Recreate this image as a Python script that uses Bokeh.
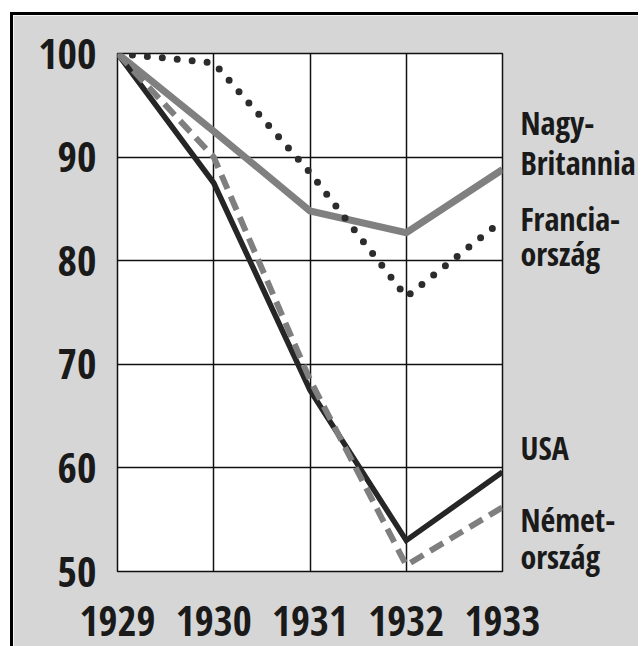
from bokeh.plotting import figure
from bokeh.models import FixedTicker, LinearAxis, Div
from bokeh.layouts import column, row
from bokeh.embed import file_html
from bokeh.resources import INLINE

years = [1929, 1930, 1931, 1932, 1933]
usa = [100, 87.5, 67.5, 53.0, 59.6]
nemetorszag = [100, 90.0, 68.5, 50.6, 56.2]
nagy_britannia = [100, 92.5, 84.8, 82.7, 88.8]
franciaorszag = [100, 99.1, 88.5, 76.5, 83.9]

y_ticks = [50, 60, 70, 80, 90, 100]

label_texts = ["Nagy-", "Britannia", "Francia-", "ország", "USA", "Német-", "ország"]
label_y = [93.36, 89.5, 84.05, 80.7, 62.0, 55.0, 51.4]

FONT = "Open Sans Condensed"
BG = "#d6d6d6"
INK = "#1a1a1a"

p = figure(width=625, height=631, output_backend="svg", toolbar_location=None,
           x_range=(1929, 1933), y_range=(50, 100),
           min_border_left=104, min_border_right=136, min_border_top=38, min_border_bottom=75)
p.background_fill_color = "white"
p.border_fill_color = BG
p.outline_line_color = "#111111"
p.outline_line_width = 1.5

p.xaxis.ticker = FixedTicker(ticks=years)
p.yaxis.ticker = FixedTicker(ticks=y_ticks)

right_axis = LinearAxis(ticker=FixedTicker(ticks=label_y),
                        major_label_overrides={v: t for v, t in zip(label_y, label_texts)})
p.add_layout(right_axis, "right")

for ax in (p.xaxis[0], p.yaxis[0], right_axis):
    ax.axis_line_color = None
    ax.major_tick_line_color = None
    ax.minor_tick_line_color = None
    ax.major_tick_out = 0
    ax.major_tick_in = 0
    ax.major_label_text_font = FONT
    ax.major_label_text_font_style = "bold"
    ax.major_label_text_color = INK
p.xaxis[0].major_label_text_font_size = "41px"
p.yaxis[0].major_label_text_font_size = "42px"
p.yaxis[0].major_label_text_align = "center"
p.yaxis[0].major_label_standoff = 21
p.xaxis[0].major_label_standoff = 34
right_axis.major_label_text_font_size = "32px"
right_axis.major_label_standoff = 18

p.grid.grid_line_color = "#111111"
p.grid.grid_line_width = 1.5
p.grid.grid_line_alpha = 1.0

p.line(years, nagy_britannia, line_color="#808080", line_width=7, line_join="miter")
p.line(years, franciaorszag, line_color="#2c2c2c", line_width=7, line_dash="0 15",
       line_cap="round", line_join="round")
p.line(years, usa, line_color="#262626", line_width=5.5, line_join="miter")
p.line(years, nemetorszag, line_color="#7f7f7f", line_width=6, line_dash="15 8",
       line_join="miter")

top_bar = Div(width=628, height=3, margin=(12, 0, 0, 10), styles={"background-color": "black"})
left_bar = Div(width=3, height=631, margin=(0, 0, 0, 10), styles={"background-color": "black"})
layout = column(top_bar, row(left_bar, p, spacing=0), spacing=0)

open("out.html", "w").write(file_html(layout, INLINE))
